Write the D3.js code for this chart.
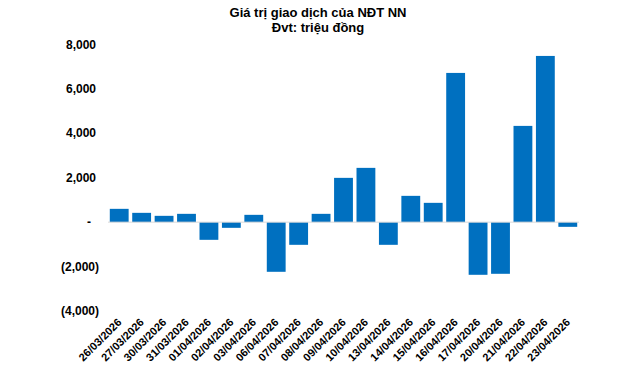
<!DOCTYPE html>
<html lang="vi">
    <head>
        <meta charset="utf-8">
        <title>Giá trị giao dịch của NĐT NN</title>
        <script type="text/javascript" src="https://d3js.org/d3.v7.min.js"></script>
        <style type="text/css">
          body { margin: 0; background: #fff; }
          text { font-family: "Liberation Sans Narrow", "Liberation Sans", Arial, sans-serif; font-weight: bold; fill: #000; }
        </style>
    </head>
    <body>
        <svg width="640" height="376"></svg>
        <script type="text/javascript">

            // data
            const dates = ["26/03/2026","27/03/2026","30/03/2026","31/03/2026","01/04/2026","02/04/2026",
                           "03/04/2026","06/04/2026","07/04/2026","08/04/2026","09/04/2026","10/04/2026",
                           "13/04/2026","14/04/2026","15/04/2026","16/04/2026","17/04/2026","20/04/2026",
                           "21/04/2026","22/04/2026","23/04/2026"];
            const values = [600, 420, 285, 375, -795, -255, 330, -2235, -1020, 375, 1995, 2445,
                            -1020, 1185, 870, 6720, -2370, -2325, 4335, 7485, -210];
            const yTicks = [-4000, -2000, 0, 2000, 4000, 6000, 8000];
            const titleLines = ["Giá trị giao dịch của NĐT NN", "Đvt: triệu đồng"];

            const svg = d3.select("svg");
            const w = 640, h = 376;

            const x = d3.scaleBand()
                        .domain(dates)
                        .range([108, 579])
                        .paddingInner(0.16)
                        .paddingOuter(0.08);

            const y = d3.scaleLinear()
                        .domain([-4000, 8000])
                        .range([311, 44.5]);

            // title
            svg.selectAll("text.title")
               .data(titleLines)
               .join("text")
               .attr("class", "title")
               .attr("x", 318)
               .attr("y", (d,i) => 17 + i*15)
               .attr("text-anchor", "middle")
               .style("font-size", "13px")
               .text(d => d);

            // y labels (accounting style)
            const fmt = d3.format(",");
            svg.selectAll("text.ylab")
               .data(yTicks)
               .join("text")
               .attr("class", "ylab")
               .attr("x", d => d < 0 ? 99 : (d === 0 ? 91 : 96))
               .attr("y", d => y(d) + 4)
               .attr("text-anchor", "end")
               .style("font-size", "12px")
               .text(d => d === 0 ? "-" : (d < 0 ? "(" + fmt(-d) + ")" : fmt(d)));

            // bars
            svg.selectAll("rect.bar")
               .data(values)
               .join("rect")
               .attr("class", "bar")
               .attr("x", (d,i) => x(dates[i]))
               .attr("width", x.bandwidth())
               .attr("y", d => y(Math.max(0, d)))
               .attr("height", d => Math.abs(y(d) - y(0)))
               .style("fill", "#0070c0");

            // zero line
            svg.append("line")
               .attr("x1", 108).attr("x2", 579)
               .attr("y1", y(0)).attr("y2", y(0))
               .style("stroke", "#d9d9d9")
               .style("stroke-width", 1);

            // x labels
            svg.selectAll("text.xlab")
               .data(dates)
               .join("text")
               .attr("class", "xlab")
               .attr("transform", d => `translate(${x(d) + x.bandwidth()/2 + 3},${323}) rotate(-45)`)
               .attr("text-anchor", "end")
               .style("font-size", "11px")
               .text(d => d);

        </script>
    </body>
</html>
